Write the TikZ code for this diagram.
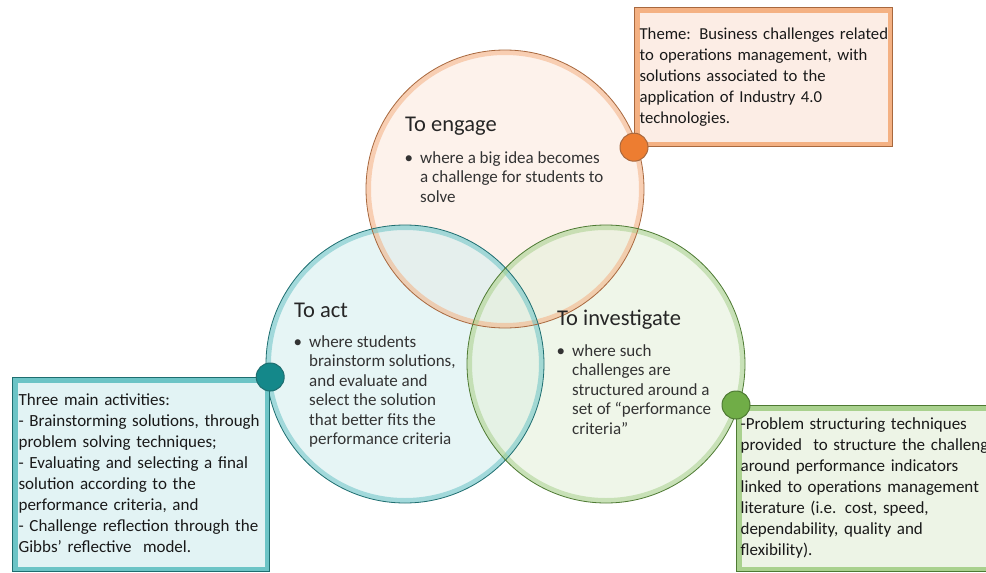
\documentclass[tikz,border=0pt]{standalone}
\usepackage{fontspec}
\setmainfont{Carlito}
\usetikzlibrary{positioning}

\definecolor{engfill}{HTML}{FBE9DE}
\definecolor{engrim}{HTML}{F4B183}
\definecolor{engline}{HTML}{A8683E}
\definecolor{engdark}{HTML}{ED7D31}
\definecolor{actfill}{HTML}{D6EEEF}
\definecolor{actrim}{HTML}{6CC4C6}
\definecolor{actline}{HTML}{1E6E70}
\definecolor{actdark}{HTML}{14888A}
\definecolor{invfill}{HTML}{E5F0DB}
\definecolor{invrim}{HTML}{A9D18E}
\definecolor{invline}{HTML}{4E7A33}
\definecolor{invdark}{HTML}{70AD47}

\newcommand{\hangbul}{\makebox[0pt][r]{\textbullet\hspace{7pt}}}
\newcommand{\boxlines}[1]{\noindent\begin{tabular}{@{}l@{}}#1\end{tabular}}

\begin{document}
\begin{tikzpicture}[x=1pt,y=-1pt,
  ring/.style={circle,minimum size=278pt,inner sep=0pt,fill opacity=0.6},
  rim/.style={line width=5pt,draw opacity=0.55},
  title/.style={anchor=west,inner sep=0pt,font=\fontsize{22.5}{26}\selectfont,text=black!85},
  bultxt/.style={anchor=north west,inner sep=0pt,align=left,
    font=\fontsize{17}{19.5}\selectfont,text=black!80},
  infobox/.style={anchor=north west,inner xsep=5pt,inner ysep=0pt,
    font=\fontsize{17}{21}\selectfont,line width=1.2pt,text=black!90},
  dot/.style={circle,minimum size=28pt,inner sep=0pt,line width=1pt}]

\useasboundingbox (0,0) rectangle (986,573);
\clip (0,0) rectangle (986,573);

% the three circles
\node[ring,fill=engfill] (engage) at (505,189) {};
\node[ring,fill=actfill] (act) at (405,364) {};
\node[ring,fill=invfill] (investigate) at (606,364) {};
\draw[rim,engrim] (engage.center) circle (136.5);
\draw[rim,actrim] (act.center) circle (136.5);
\draw[rim,invrim] (investigate.center) circle (136.5);
\draw[engline,line width=0.8pt] (engage.center) circle (139);
\draw[actline,line width=0.8pt] (act.center) circle (139);
\draw[invline,line width=0.8pt] (investigate.center) circle (139);

% texts in the circles
\node[title] (engtitle) at (405,126) {To engage};
\node[bultxt] (engtxt) at (420,151) {\hangbul where a big idea becomes\\a challenge for students to\\solve};

\node[title] (acttitle) at (294,310) {To act};
\node[bultxt] (acttxt) at (309,335) {\hangbul where students\\brainstorm solutions,\\and evaluate and\\select the solution\\that better fits the\\performance criteria};

\node[title] (invtitle) at (557,320) {To investigate};
\node[bultxt] (invtxt) at (572,344) {\hangbul where such\\challenges are\\structured around a\\set of “performance\\criteria”};

% side boxes
\node[infobox,draw=engline,fill=engfill!80!white,minimum width=258pt,minimum height=139pt,
  text width=248pt,font=\fontsize{16.7}{21}\selectfont,
  path picture={\draw[engrim,line width=10pt] (path picture bounding box.south west)
    rectangle (path picture bounding box.north east);}]
  (themebox) at (634,7) {\boxlines{Theme: Business challenges related\\to operations management, with\\solutions associated to the\\application of Industry 4.0\\technologies.}};
\node[infobox,draw=actline,fill=actfill!70!white,minimum width=257pt,minimum height=194pt,
  text width=245pt,inner xsep=6pt,
  path picture={\draw[actrim,line width=10pt] (path picture bounding box.south west)
    rectangle (path picture bounding box.north east);}]
  (actbox) at (12,377) {\boxlines{Three main activities:\\- Brainstorming solutions, through\\problem solving techniques;\\- Evaluating and selecting a final\\solution according to the\\performance criteria, and\\- Challenge reflection through the\\Gibbs’ reflective\ \ model.}};
\node[infobox,draw=invline,fill=invfill!70!white,minimum width=290pt,minimum height=166pt,
  text width=282pt,inner xsep=3pt,
  path picture={\draw[invrim,line width=10pt] (path picture bounding box.south west)
    rectangle (path picture bounding box.north east);}]
  (invbox) at (736,405) {\boxlines{-Problem structuring techniques\\provided\ \ to structure the challenge\\around performance indicators\\linked to operations management\\literature (i.e. cost, speed,\\dependability, quality and\\flexibility).}};

% dots on the rims
\node[dot,fill=engdark,draw=engline] (engdot) at (themebox.south west) {};
\node[dot,fill=actdark,draw=actline] (actdot) at (actbox.north east) {};
\node[dot,fill=invdark,draw=invline] (invdot) at (invbox.north west) {};
\end{tikzpicture}
\end{document}
